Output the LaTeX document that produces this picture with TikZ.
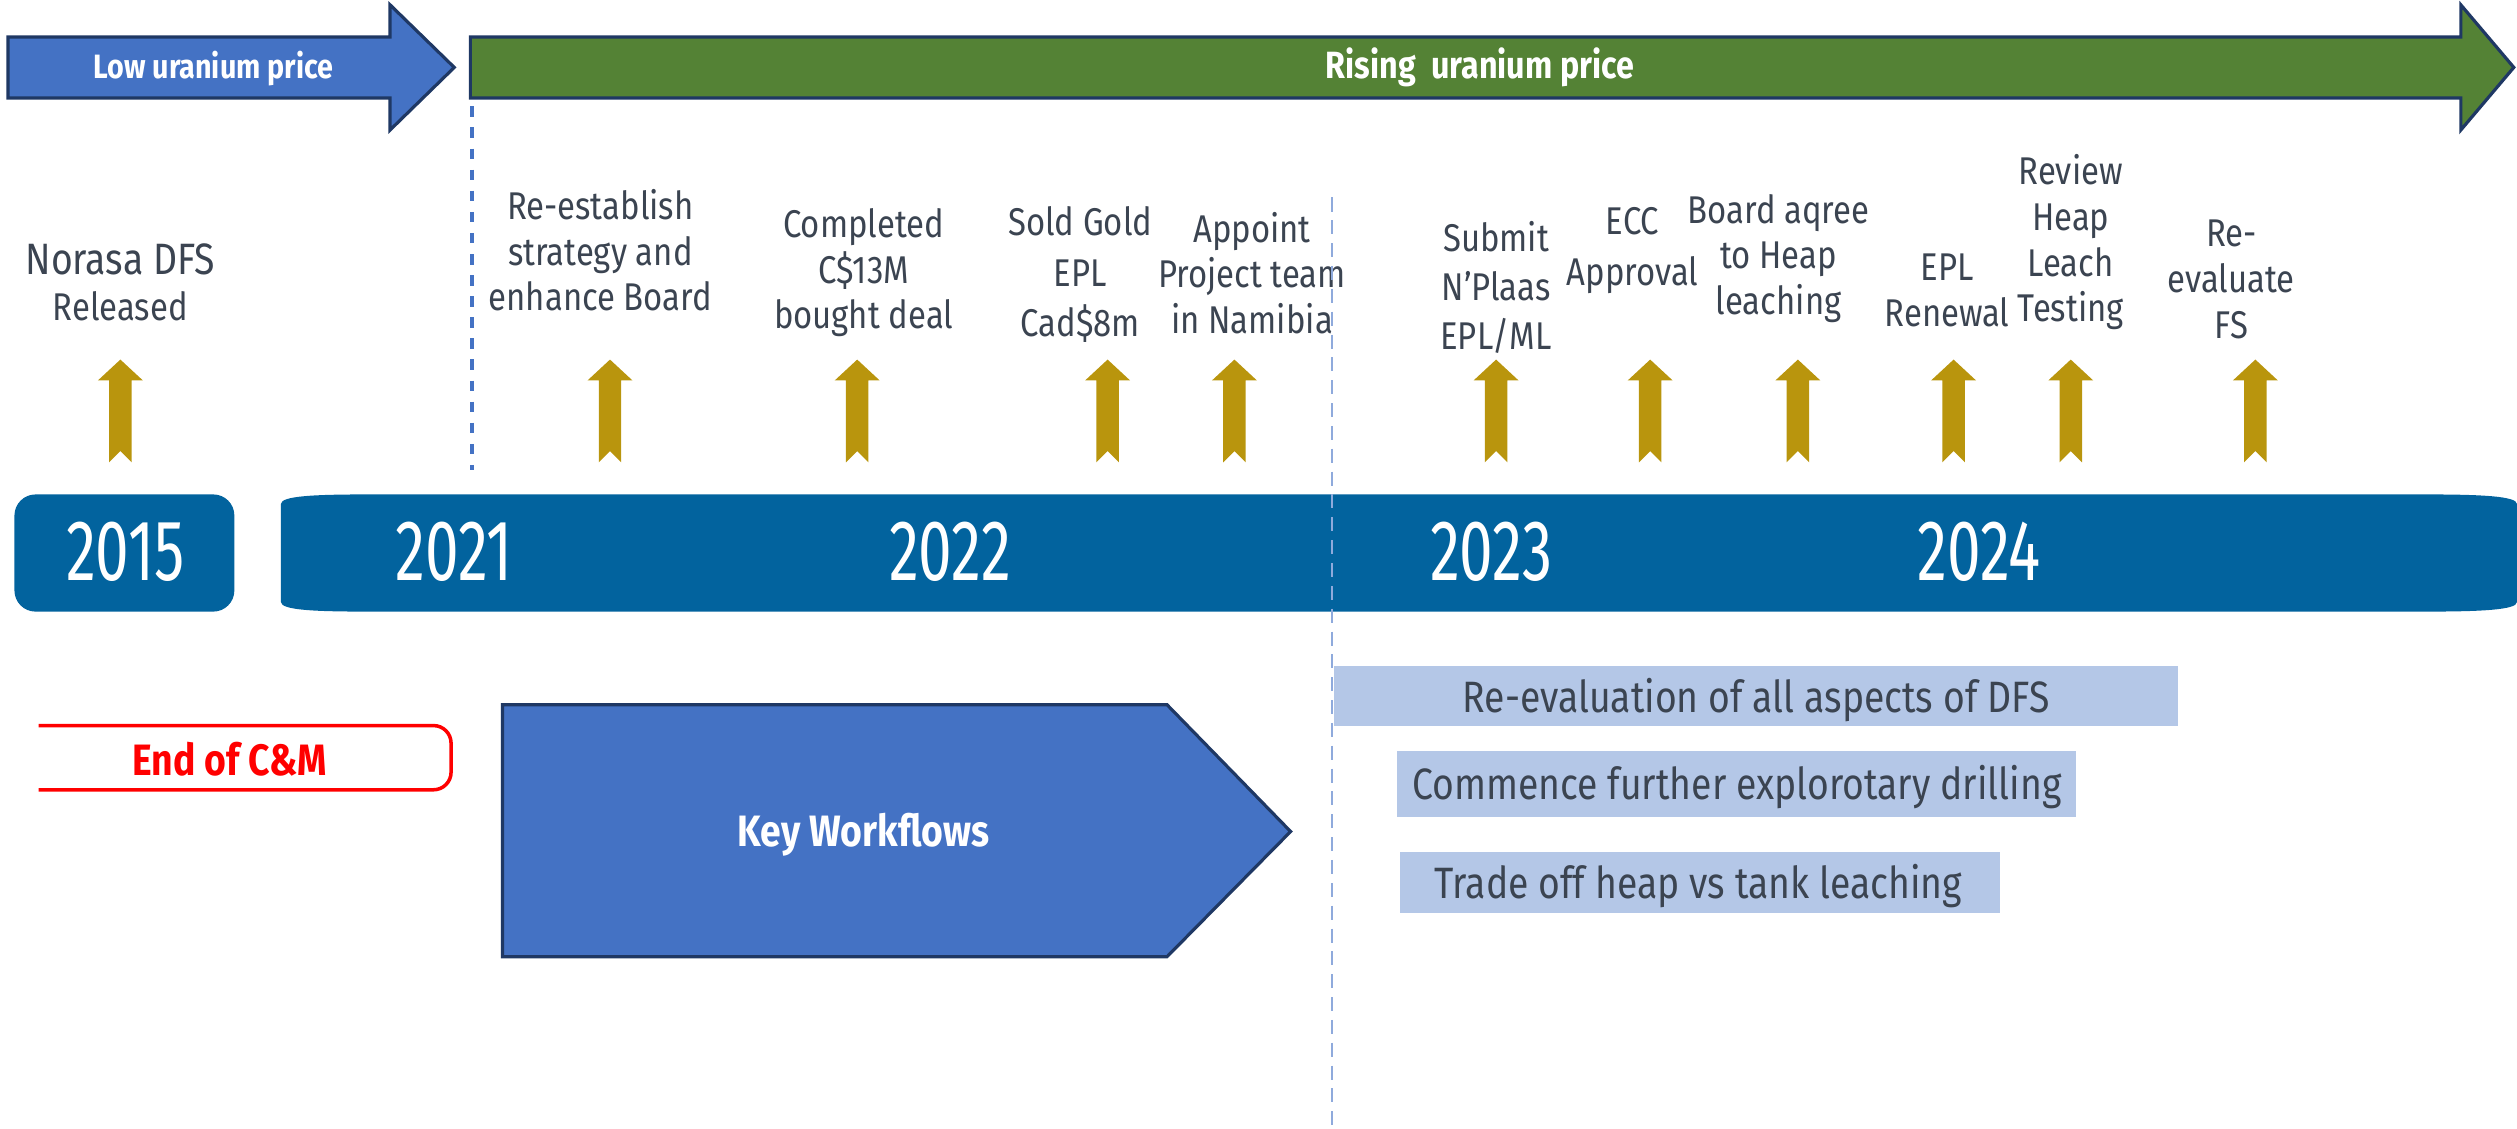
\documentclass[tikz,border=0pt]{standalone}
\usepackage{fontspec}
\usepackage{tikz}
\usetikzlibrary{positioning}
\setmainfont{Fira Sans}[FakeStretch=0.85]
\newfontfamily\yearfont{Fira Sans}[FakeStretch=0.7]

\definecolor{lowblue}{RGB}{68,114,196}
\definecolor{navy}{RGB}{31,56,100}
\definecolor{risegreen}{RGB}{84,130,53}
\definecolor{barblue}{RGB}{2,99,158}
\definecolor{gold}{RGB}{185,149,13}
\definecolor{paleblue}{RGB}{180,199,231}
\definecolor{textgray}{RGB}{59,68,81}
\definecolor{dashblue}{RGB}{143,170,220}

\begin{document}
\begin{tikzpicture}[x=0.01605cm,y=-0.01605cm,
    event/.style={text=textgray,align=center,font=\fontsize{11}{13}\selectfont},
    year/.style={text=white,font=\yearfont\fontsize{24.5}{26}\selectfont},
    task/.style={text=textgray,font=\fontsize{12.5}{14}\selectfont},
    banner/.style={text=white,font=\bfseries\fontsize{9.6}{11}\selectfont},
    goldarrow/.pic={\fill[gold] (-7,0) -- (-7,-51) -- (-14,-51) -- (0,-64) -- (14,-51) -- (7,-51) -- (7,0) -- (0,-7) -- cycle;}]
    \useasboundingbox (0,0) rectangle (1568,703);

    % price trend
    \draw[lowblue,dashed,line width=1pt] (294,40) -- (294,293);
    \draw[navy,fill=lowblue,line width=0.9pt] (5,23) -- (243,23) -- (243,3) -- (283,42) -- (243,81) -- (243,61) -- (5,61) -- cycle;
    \draw[navy,fill=risegreen,line width=0.9pt] (293,23) -- (1533,23) -- (1533,3) -- (1566,42) -- (1533,81) -- (1533,61) -- (293,61) -- cycle;
    \node[banner] (lowprice) at (133,43) {Low uranium price};
    \node[banner,font=\bfseries\fontsize{10.8}{12}\selectfont] (riseprice) at (922,42) {Rising~ uranium price};

    % timeline
    \fill[barblue,rounded corners=6] (9,308) rectangle (146,381);
    \fill[barblue] (175,314) .. controls (175,309) and (195,308) .. (230,308) -- (1510,308)
        .. controls (1545,308) and (1568,309) .. (1568,314) -- (1568,375)
        .. controls (1568,380) and (1545,381) .. (1510,381) -- (230,381)
        .. controls (195,381) and (175,380) .. (175,375) -- cycle;
    \node[year] (y2015) at (78,344) {2015};
    \node[year] (y2021) at (283,344) {2021};
    \node[year] (y2022) at (592,344) {2022};
    \node[year] (y2023) at (929,344) {2023};
    \node[year] (y2024) at (1233,344) {2024};

    % milestones
    \pic (m1) at (75,288) {goldarrow};
    \pic (m2) at (380,288) {goldarrow};
    \pic (m3) at (534,288) {goldarrow};
    \pic (m4) at (690,288) {goldarrow};
    \pic (m5) at (769,288) {goldarrow};
    \pic (m6) at (932,288) {goldarrow};
    \pic (m7) at (1028,288) {goldarrow};
    \pic (m8) at (1120,288) {goldarrow};
    \pic (m9) at (1217,288) {goldarrow};
    \pic (m10) at (1290,288) {goldarrow};
    \pic (m11) at (1405,288) {goldarrow};

    \node[event] (evdfs) at (75,176) {{\fontsize{12.5}{14}\selectfont Norasa DFS}\\Released};
    \node[event] (evboard) at (374,156) {Re-establish\\strategy and\\enhance Board};
    \node[event] (evdeal) at (538,170) {Completed\\C\$13M\\bought deal};
    \node[event,font=\fontsize{11}{14.5}\selectfont] (evgold) at (673,171) {Sold Gold\\EPL\\Cad\$8m};
    \node[event] (evteam) at (780,170) {Appoint\\Project team\\in Namibia};
    \node[event,font=\fontsize{11}{14}\selectfont] (evsubmit) at (932,179) {Submit\\N’Plaas\\EPL/ML};
    \node[event,font=\fontsize{11}{14.5}\selectfont] (evecc) at (1017,156) {ECC\\Approval};
    \node[event] (evheap) at (1108,161) {Board aqree\\to Heap\\leaching};
    \node[event] (evrenew) at (1213,181) {EPL\\Renewal};
    \node[event] (evtest) at (1290,151) {Review\\Heap\\Leach\\Testing};
    \node[event] (evfs) at (1390,174) {Re-\\evaluate\\FS};

    % workflows
    \draw[red,line width=1pt,rounded corners=5] (24,452) -| (281,492) -- (24,492);
    \node[text=red,font=\bfseries\fontsize{12.5}{14}\selectfont] (endcm) at (143,473) {End of C\&M};
    \draw[navy,fill=lowblue,line width=0.9pt] (313,439) -- (727,439) -- (804,518) -- (727,596) -- (313,596) -- cycle;
    \node[banner,font=\bfseries\fontsize{12.5}{14}\selectfont] (keywf) at (538,520) {Key Workflows};

    \fill[paleblue] (831,415) rectangle (1357,452);
    \fill[paleblue] (870,468) rectangle (1293,509);
    \fill[paleblue] (872,531) rectangle (1246,569);
    \node[task] (revaldfs) at (1094,436) {Re-evaluation of all aspects of DFS};
    \node[task] (drilling) at (1082,490) {Commence further explorotary drilling};
    \node[task] (tradeoff) at (1058,552) {Trade off heap vs tank leaching};

    \draw[dashblue,dash pattern=on 4pt off 2.5pt,line width=0.6pt] (830,123) -- (830,703);
\end{tikzpicture}
\end{document}
